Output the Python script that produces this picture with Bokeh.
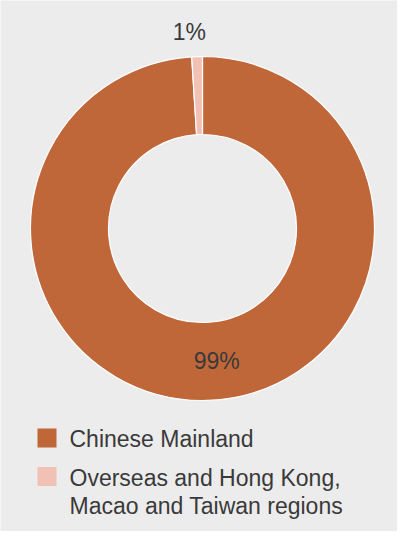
import math
from bokeh.plotting import figure
from bokeh.models import ColumnDataSource, Range1d
from bokeh.core.properties import value
from bokeh.embed import file_html
from bokeh.resources import INLINE

# ---- data ----
categories = ["Chinese Mainland", "Overseas and Hong Kong,\nMacao and Taiwan regions"]
shares = [99, 1]
share_labels = ["99%", "1%"]
colors = ["#c0673a", "#f2c1b5"]

# ---- layout constants ----
W, H = 397, 531
BG = "#ececec"
CX, CY = 202, 303
R_OUT, R_IN = 172, 94
FONT = value("Liberation Sans")
TXT = "#3a3a3a"
LINE_GAP = 28

total = sum(shares)
starts, ends, mids = [], [], []
cum = 0.0
for s in shares:
    a0 = math.pi / 2 - 2 * math.pi * cum / total
    cum += s
    a1 = math.pi / 2 - 2 * math.pi * cum / total
    starts.append(a0)
    ends.append(a1)
    mids.append((a0 + a1) / 2)

src = ColumnDataSource(dict(start=starts, end=ends, color=colors, cat=categories))

p = figure(width=W, height=H, output_backend="svg", toolbar_location=None,
           x_range=Range1d(0, W), y_range=Range1d(0, H), min_border=0,
           background_fill_color=BG, border_fill_color=BG, outline_line_color=None)
p.axis.visible = False
p.grid.visible = False

p.annular_wedge(x=CX, y=CY, inner_radius=R_IN, outer_radius=R_OUT,
                start_angle="start", end_angle="end", direction="clock",
                fill_color="color", line_color="white", line_width=1.2, source=src)

# value labels: large slice inside ring, small slice outside
label_r = [(R_IN + R_OUT) / 2, R_OUT + 25]
lx, ly = [], []
for i, m in enumerate(mids):
    lx.append(CX + label_r[i] * math.cos(m) + (10 if i == 0 else -7))
    ly.append(CY + label_r[i] * math.sin(m))
p.text(x=lx, y=ly, text=share_labels, text_font=FONT, text_font_size="23px",
       text_color=TXT, text_align="center", text_baseline="middle")

# legend drawn manually
sq_x = 46.5
sq_y = [93.5, 55]
p.rect(x=[sq_x] * len(categories), y=sq_y, width=19, height=19,
       fill_color=colors, line_color=None)
tx, ty, tt = [], [], []
for cat, y0 in zip(categories, sq_y):
    for k, line in enumerate(cat.split("\n")):
        tx.append(69)
        ty.append(y0 - 1 - k * LINE_GAP)
        tt.append(line)
p.text(x=tx, y=ty, text=tt, text_font=FONT, text_font_size="23px",
       text_color=TXT, text_align="left", text_baseline="middle")

open("out.html", "w").write(file_html(p, INLINE))
